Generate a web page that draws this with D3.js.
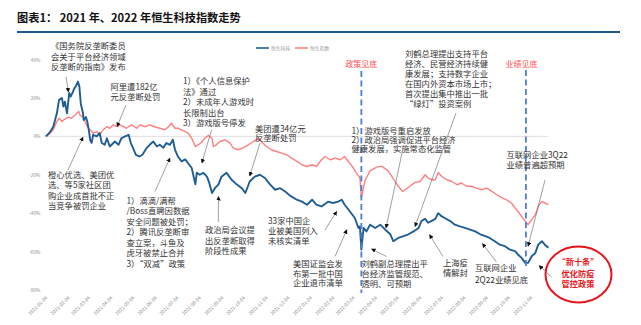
<!DOCTYPE html>
<html>
<head>
<meta charset="utf-8">
<script src="https://cdn.jsdelivr.net/npm/d3@7"></script>
<style>
  body { margin: 0; background: #fff; }
  svg text { font-family: "Noto Sans CJK SC", "Noto Sans", sans-serif; }
</style>
</head>
<body>
<svg id="chart" width="641" height="325"></svg>
<script>
// ---- data ----
const chartTitle = "图表1： 2021 年、2022 年恒生科技指数走势";
const seriesNames = ["恒生科技", "恒生指数"];

// month tick labels on the date axis
const tickDates = ["2021-01-04","2021-02-04","2021-03-04","2021-04-04","2021-05-04","2021-06-04",
  "2021-07-04","2021-08-04","2021-09-04","2021-10-04","2021-11-04","2021-12-04","2022-01-04",
  "2022-02-04","2022-03-04","2022-04-04","2022-05-04","2022-06-04","2022-07-04","2022-08-04",
  "2022-09-04","2022-10-04","2022-11-04"];
const yTicks = [40, 20, 0, -20, -40, -60, -80];

// 恒生科技 cumulative change (%)
const techDates = ["2021-01-04","2021-01-10","2021-01-14","2021-01-19","2021-01-22","2021-01-26","2021-01-28","2021-01-30","2021-02-02","2021-02-05",
  "2021-02-07","2021-02-10","2021-02-12","2021-02-14","2021-02-17","2021-02-19","2021-02-21","2021-02-24","2021-02-25","2021-02-28",
  "2021-03-02","2021-03-04","2021-03-06","2021-03-08","2021-03-10","2021-03-15","2021-03-19","2021-03-22","2021-03-26","2021-03-29",
  "2021-04-02","2021-04-09","2021-04-14","2021-04-18","2021-04-23","2021-04-28","2021-05-01","2021-05-04","2021-05-08","2021-05-13",
  "2021-05-17","2021-05-23","2021-05-27","2021-06-01","2021-06-06","2021-06-10","2021-06-15","2021-06-19","2021-06-24","2021-06-28",
  "2021-07-01","2021-07-05","2021-07-10","2021-07-15","2021-07-19","2021-07-24","2021-07-29","2021-07-31","2021-08-04","2021-08-09",
  "2021-08-14","2021-08-17","2021-08-21","2021-08-25","2021-08-30","2021-09-03","2021-09-10","2021-09-17","2021-09-24","2021-10-01",
  "2021-10-06","2021-10-12","2021-10-19","2021-10-26","2021-11-02","2021-11-09","2021-11-16","2021-11-23","2021-11-30","2021-12-07",
  "2021-12-16","2021-12-23","2021-12-30","2022-01-06","2022-01-12","2022-01-19","2022-01-28","2022-02-04","2022-02-11","2022-02-16",
  "2022-02-20","2022-02-27","2022-03-06","2022-03-11","2022-03-13","2022-03-15","2022-03-18","2022-03-22","2022-03-27","2022-04-03",
  "2022-04-10","2022-04-17","2022-04-24","2022-04-28","2022-05-05","2022-05-12","2022-05-19","2022-05-26","2022-06-02","2022-06-06",
  "2022-06-11","2022-06-15","2022-06-20","2022-06-25","2022-06-29","2022-07-04","2022-07-08","2022-07-15","2022-07-22","2022-07-29",
  "2022-08-05","2022-08-12","2022-08-19","2022-08-26","2022-09-02","2022-09-08","2022-09-15","2022-09-22","2022-09-29","2022-10-06",
  "2022-10-13","2022-10-17","2022-10-22","2022-10-27","2022-10-31","2022-11-05","2022-11-10","2022-11-14","2022-11-19","2022-11-23",
  "2022-11-28"];
const techValues = [0,2.5,5,12,19,20,15.5,18,12,22.6,
  20.7,23,25,26,28.5,26,17,12,8.5,10,
  7.7,3.4,-2,-3.4,0.8,0,1.7,-3.5,-4.4,-1,
  -5.3,-2.7,-4.4,-1,0,0.8,-3.5,-6,-9.6,-10.5,
  -9.6,-6,-4.4,-2.7,-5.3,-4.4,-6,-3.5,-4.4,-1.8,
  -7,-10.5,-13,-12,-14,-16.5,-25,-19,-20,-19,
  -21,-24,-29.5,-27,-25,-21,-19,-22.6,-25,-27,
  -29.5,-23.5,-21,-20,-21.7,-25,-27.8,-27,-28.7,-31,
  -33,-34,-35.6,-33,-35.6,-36.5,-34,-34.7,-34,-33,
  -35.6,-39,-42.5,-47.7,-46.9,-59,-47.7,-49.5,-46,-47.7,
  -46,-48.6,-51,-54.6,-52.9,-52,-51,-49.5,-47.7,-44,
  -43,-45,-44,-43,-40,-41.7,-42.5,-44,-46,-46.9,
  -47.7,-48.6,-49.5,-51,-52,-52.9,-54.6,-56.4,-57.2,-59,
  -59.8,-61.5,-63.3,-65.9,-65.9,-62.4,-60.7,-56.4,-54.6,-56.4,
  -58];

// 恒生指数 cumulative change (%)
const hsiDates = ["2021-01-04","2021-01-10","2021-01-14","2021-01-19","2021-01-22","2021-01-26","2021-01-30","2021-02-04","2021-02-08","2021-02-13",
  "2021-02-18","2021-02-20","2021-02-24","2021-02-27","2021-03-02","2021-03-06","2021-03-10","2021-03-15","2021-03-19","2021-03-24",
  "2021-03-29","2021-04-02","2021-04-07","2021-04-12","2021-04-16","2021-04-21","2021-04-25","2021-05-02","2021-05-09","2021-05-14",
  "2021-05-21","2021-05-27","2021-06-03","2021-06-10","2021-06-17","2021-06-22","2021-06-26","2021-07-01","2021-07-05","2021-07-10",
  "2021-07-15","2021-07-19","2021-07-24","2021-07-29","2021-08-02","2021-08-07","2021-08-11","2021-08-16","2021-08-21","2021-08-23",
  "2021-08-27","2021-09-01","2021-09-08","2021-09-15","2021-09-19","2021-09-26","2021-10-03","2021-10-10","2021-10-17","2021-10-24",
  "2021-10-28","2021-11-04","2021-11-11","2021-11-18","2021-11-25","2021-12-02","2021-12-09","2021-12-16","2021-12-23","2021-12-30",
  "2022-01-06","2022-01-12","2022-01-19","2022-01-24","2022-01-31","2022-02-07","2022-02-14","2022-02-20","2022-02-27","2022-03-04",
  "2022-03-08","2022-03-13","2022-03-15","2022-03-20","2022-03-27","2022-04-05","2022-04-12","2022-04-21","2022-04-28","2022-05-05",
  "2022-05-11","2022-05-21","2022-05-28","2022-06-04","2022-06-11","2022-06-15","2022-06-20","2022-06-25","2022-06-29","2022-07-04",
  "2022-07-11","2022-07-18","2022-07-25","2022-07-31","2022-08-07","2022-08-14","2022-08-21","2022-08-28","2022-09-04","2022-09-11",
  "2022-09-18","2022-09-25","2022-10-01","2022-10-08","2022-10-13","2022-10-17","2022-10-22","2022-10-27","2022-10-31","2022-11-05",
  "2022-11-10","2022-11-14","2022-11-19","2022-11-23","2022-11-28"];
const hsiValues = [0,1.7,3.4,7.7,9.4,7.7,9,10,9.4,11,
  13,11,10,7.7,5,3.4,1.7,2.5,0.8,3.4,
  5,4.2,6,5,6,5,4.2,6,4.2,6,
  5,6,5,4.2,3.4,5,6.8,4.2,4.2,3.4,
  2.5,1.7,-1,-5.3,-4.4,-3,-1,0.5,-1,-5.3,
  -4.4,-2.7,-1.8,-3.5,-6,-7,-6,-4.4,-2.7,-1,
  -2.7,-5.3,-7,-7.9,-8.7,-9.6,-11.3,-13,-14.8,-15.7,
  -14.8,-15.7,-12.2,-10.5,-12.2,-11.3,-12.2,-10.5,-14,-16.5,
  -19,-21.7,-32,-23,-18,-16,-15.5,-18,-22,-26,
  -28.7,-26,-24,-23.5,-20,-21.7,-22.6,-22.6,-18.8,-20.9,
  -22.6,-23.5,-25.2,-24.3,-26,-26,-27,-27.8,-27,-28.7,
  -30.4,-32,-33,-34.7,-37.3,-39,-41.7,-44.3,-46,-43.4,
  -40.8,-36.5,-33.9,-34.7,-35.6];

// turning points marked with dashed verticals
const milestoneDates = ["2022-03-15", "2022-10-28"];
const milestoneLabels = ["政策见底", "业绩见底"];

// event notes: text lines and the (date, value) each arrow points at
const noteTexts = [
  ["《国务院反垄断委员","会关于平台经济领域","反垄断的指南》发布"],
  ["阿里遭182亿","元反垄断处罚"],
  ["1）《个人信息保护","法》通过","2）未成年人游戏时","长限制出台","3）游戏版号停发"],
  ["美团遭34亿元","反垄断处罚"],
  ["1）游戏版号重启发放","2）政治局强调促进平台经济","健康发展，实施常态化监管"],
  ["刘鹤总理提出支持平台","经济、民营经济持续健","康发展；支持数字企业","在国内外资本市场上市；","首次提出集中推出一批","“绿灯”投资案例"],
  ["互联网企业3Q22","业绩普遍超预期"],
  ["上海疫","情解封"],
  ["互联网企业","2Q22业绩见底"],
  ["刘鹤副总理提出平","台经济监管规范、","透明、可预期"],
  ["美国证监会发","布第一批中国","企业退市清单"],
  ["33家中国企","业被美国列入","未核实清单"],
  ["政治局会议提","出反垄断取得","阶段性成果"],
  ["1）滴滴/满帮","/Boss直聘因数据","安全问题被处罚；","2）腾讯反垄断审","查立案，斗鱼及","虎牙被禁止合并","3）“双减”政策"],
  ["橙心优选、美团优","选、等5家社区团","购企业成首批不正","当竞争被罚企业"]
];
const noteTargetDates = ["2021-02-04","2021-04-12","2021-08-07","2021-10-12","2022-04-18","2022-05-28",
  "2022-10-31","2022-06-17","2022-08-29","2022-03-29","2022-02-23","2022-02-09","2021-08-30","2021-06-24","2021-02-24"];
const noteTargetValues = [23.1,5.1,-13.9,-20.7,-47.7,-47,-57.2,-51.2,-55.8,-58.6,-48.6,-39.1,-31.3,-11.3,-0.4];

const policyNote = ["“新十条”", "优化防疫", "管控政策"];
const policyTarget = ["2022-11-15", -67.3];

// ---- layout ----
const noteLayout = [
  {x: 51,  y: 46.5,  lh: 10.4, tail: [66, 77]},
  {x: 110.5, y: 87.5, lh: 9.6, tail: [126, 105]},
  {x: 183, y: 81.5,  lh: 10.4, tail: [211.5, 130]},
  {x: 255, y: 129,   lh: 9.5, tail: [260, 143]},
  {x: 351.5, y: 131, lh: 8.9, tail: [402, 153]},
  {x: 405, y: 54.5,  lh: 9.9, tail: [456, 113]},
  {x: 506.5, y: 155, lh: 10, tail: [545, 180]},
  {x: 443, y: 263.5, lh: 9.4, tail: [443, 256.5]},
  {x: 475, y: 268.5, lh: 11.3, tail: [496.5, 262]},
  {x: 361.5, y: 264.5, lh: 9.7, tail: [386.5, 256.5]},
  {x: 293, y: 264,   lh: 9.7, tail: [335, 256.5]},
  {x: 268, y: 221.5, lh: 9.7, tail: [325, 230]},
  {x: 205, y: 230.5, lh: 10.2, tail: [218.3, 222]},
  {x: 126.5, y: 201, lh: 10.5, tail: [155, 191.5]},
  {x: 48,  y: 175,   lh: 10.3, tail: [68, 170]}
];

const parse = d3.timeParse("%Y-%m-%d");
const svg = d3.select("#chart");

const x = d3.scaleTime()
  .domain([parse(tickDates[0]), parse(tickDates[tickDates.length - 1])])
  .range([46, 531]);
const y = d3.scaleLinear().domain([-80, 40]).range([290, 59.5]);

// title and rule
svg.append("text").attr("x", 17).attr("y", 22)
  .attr("font-size", 11.2).attr("font-weight", 700).attr("fill", "#111")
  .text(chartTitle);
svg.append("line").attr("x1", 17).attr("x2", 620).attr("y1", 32).attr("y2", 32)
  .attr("stroke", "#1f5a8e").attr("stroke-width", 2.2);

// arrowhead marker
svg.append("defs").append("marker")
  .attr("id", "arrow").attr("viewBox", "0 0 10 10")
  .attr("refX", 9).attr("refY", 5)
  .attr("markerUnits", "userSpaceOnUse")
  .attr("markerWidth", 4.5).attr("markerHeight", 4.5)
  .attr("orient", "auto")
  .append("path").attr("d", "M0,0 L10,5 L0,10 z").attr("fill", "#111");

// y axis
const yAxis = svg.append("g").attr("transform", "translate(40.5,0)")
  .call(d3.axisLeft(y).tickValues(yTicks).tickSize(0).tickPadding(0).tickFormat(d => d + "%"));
yAxis.select(".domain").remove();
yAxis.selectAll("text").attr("font-size", 4.8).attr("fill", "#8a8a8a")
  .attr("font-family", "Liberation Sans, Arial, sans-serif");

// zero line
svg.append("line").attr("x1", 44).attr("x2", 548).attr("y1", y(0)).attr("y2", y(0))
  .attr("stroke", "#d6d6d6").attr("stroke-width", 0.8);

// x axis with rotated date labels
const xAxis = svg.append("g").attr("transform", "translate(0,297)")
  .call(d3.axisBottom(x).tickValues(tickDates.map(parse)).tickSize(0)
    .tickFormat(d3.timeFormat("%Y-%m-%d")));
xAxis.select(".domain").remove();
xAxis.selectAll("text")
  .attr("x", 0).attr("y", 0).attr("dy", "0.35em")
  .attr("transform", "rotate(-45)")
  .style("text-anchor", "end")
  .attr("font-size", 4.8).attr("fill", "#8a8a8a")
  .attr("font-family", "Liberation Sans, Arial, sans-serif");

// series
const tech = techDates.map((d, i) => ({date: parse(d), value: techValues[i]}));
const hsi = hsiDates.map((d, i) => ({date: parse(d), value: hsiValues[i]}));
const line = d3.line().x(d => x(d.date)).y(d => y(d.value));

svg.append("path").datum(hsi).attr("d", line)
  .attr("fill", "none").attr("stroke", "#ff8080").attr("stroke-width", 1.4)
  .attr("stroke-linejoin", "round");
svg.append("path").datum(tech).attr("d", line)
  .attr("fill", "none").attr("stroke", "#1f5d95").attr("stroke-width", 1.9)
  .attr("stroke-linejoin", "round");

// legend
const legend = [
  {name: seriesNames[0], color: "#1f5d95", x: 256},
  {name: seriesNames[1], color: "#ff8080", x: 295}
];
legend.forEach(l => {
  svg.append("line").attr("x1", l.x).attr("x2", l.x + 13).attr("y1", 48).attr("y2", 48)
    .attr("stroke", l.color).attr("stroke-width", 1.6);
  svg.append("text").attr("x", l.x + 15).attr("y", 48).attr("dy", "0.35em")
    .attr("font-size", 4.8).attr("fill", "#999").text(l.name);
});

// dashed milestone lines
const milestoneSpans = [[71, 293], [70, 266]];
const milestoneLabelShift = [0, -4.5];
milestoneDates.forEach((d, i) => {
  const mx = x(parse(d));
  svg.append("line").attr("x1", mx).attr("x2", mx)
    .attr("y1", milestoneSpans[i][0]).attr("y2", milestoneSpans[i][1])
    .attr("stroke", "#4a7fd6").attr("stroke-width", 1.8).attr("stroke-dasharray", "6,3.5");
  svg.append("text").attr("x", mx + milestoneLabelShift[i]).attr("y", 64).attr("dy", "0.35em")
    .attr("text-anchor", "middle").attr("font-size", 8).attr("fill", "#ff5050")
    .text(milestoneLabels[i]);
});

// event notes with arrows
noteTexts.forEach((lines, i) => {
  const L = noteLayout[i];
  const t = svg.append("text").attr("font-size", 8.3).attr("fill", "#333");
  lines.forEach((s, k) => {
    t.append("tspan").attr("x", L.x).attr("y", L.y + k * L.lh).attr("dy", "0.35em").text(s);
  });
  svg.append("line")
    .attr("x1", L.tail[0]).attr("y1", L.tail[1])
    .attr("x2", x(parse(noteTargetDates[i]))).attr("y2", y(noteTargetValues[i]))
    .attr("stroke", "#777").attr("stroke-width", 0.7)
    .attr("marker-end", "url(#arrow)");
});

// circled policy note
svg.append("ellipse").attr("cx", 578.5).attr("cy", 274.5).attr("rx", 33).attr("ry", 28)
  .attr("fill", "none").attr("stroke", "#e8141b").attr("stroke-width", 2);
const pt = svg.append("text").attr("font-size", 8.2).attr("font-weight", 700)
  .attr("fill", "#e8141b").attr("text-anchor", "middle");
[262, 274, 284.5].forEach((py, k) => {
  pt.append("tspan").attr("x", 578).attr("y", py).attr("dy", "0.35em").text(policyNote[k]);
});
svg.append("line").attr("x1", 551.5).attr("y1", 277)
  .attr("x2", x(parse(policyTarget[0]))).attr("y2", y(policyTarget[1]))
  .attr("stroke", "#777").attr("stroke-width", 0.7).attr("marker-end", "url(#arrow)");
</script>
</body>
</html>
